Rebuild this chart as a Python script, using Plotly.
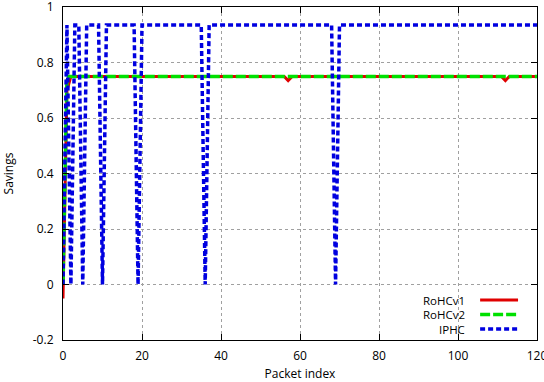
import plotly.graph_objects as go

packet_index = list(range(121))

rohcv1 = [
    -0.05, 0.70, 0.75, 0.75, 0.75, 0.75, 0.75, 0.75, 0.75, 0.75,
    0.75, 0.75, 0.75, 0.75, 0.75, 0.75, 0.75, 0.75, 0.75, 0.75,
    0.75, 0.75, 0.75, 0.75, 0.75, 0.75, 0.75, 0.75, 0.75, 0.75,
    0.75, 0.75, 0.75, 0.75, 0.75, 0.75, 0.75, 0.75, 0.75, 0.75,
    0.75, 0.75, 0.75, 0.75, 0.75, 0.75, 0.75, 0.75, 0.75, 0.75,
    0.75, 0.75, 0.75, 0.75, 0.75, 0.75, 0.75, 0.735, 0.75, 0.75,
    0.75, 0.75, 0.75, 0.75, 0.75, 0.75, 0.75, 0.75, 0.75, 0.75,
    0.75, 0.75, 0.75, 0.75, 0.75, 0.75, 0.75, 0.75, 0.75, 0.75,
    0.75, 0.75, 0.75, 0.75, 0.75, 0.75, 0.75, 0.75, 0.75, 0.75,
    0.75, 0.75, 0.75, 0.75, 0.75, 0.75, 0.75, 0.75, 0.75, 0.75,
    0.75, 0.75, 0.75, 0.75, 0.75, 0.75, 0.75, 0.75, 0.75, 0.75,
    0.75, 0.75, 0.735, 0.75, 0.75, 0.75, 0.75, 0.75, 0.75, 0.75,
    0.75,
]

rohcv2 = [
    0.0, 0.75, 0.75, 0.75, 0.75, 0.75, 0.75, 0.75, 0.75, 0.75,
    0.75, 0.75, 0.75, 0.75, 0.75, 0.75, 0.75, 0.75, 0.75, 0.75,
    0.75, 0.75, 0.75, 0.75, 0.75, 0.75, 0.75, 0.75, 0.75, 0.75,
    0.75, 0.75, 0.75, 0.75, 0.75, 0.75, 0.75, 0.75, 0.75, 0.75,
    0.75, 0.75, 0.75, 0.75, 0.75, 0.75, 0.75, 0.75, 0.75, 0.75,
    0.75, 0.75, 0.75, 0.75, 0.75, 0.75, 0.75, 0.75, 0.75, 0.75,
    0.75, 0.75, 0.75, 0.75, 0.75, 0.75, 0.75, 0.75, 0.75, 0.75,
    0.75, 0.75, 0.75, 0.75, 0.75, 0.75, 0.75, 0.75, 0.75, 0.75,
    0.75, 0.75, 0.75, 0.75, 0.75, 0.75, 0.75, 0.75, 0.75, 0.75,
    0.75, 0.75, 0.75, 0.75, 0.75, 0.75, 0.75, 0.75, 0.75, 0.75,
    0.75, 0.75, 0.75, 0.75, 0.75, 0.75, 0.75, 0.75, 0.75, 0.75,
    0.75, 0.75, 0.75, 0.75, 0.75, 0.75, 0.75, 0.75, 0.75, 0.75,
    0.75,
]

iphc = [
    0.0, 0.935, 0.0, 0.935, 0.935, 0.0, 0.935, 0.935, 0.935, 0.935,
    0.0, 0.935, 0.935, 0.935, 0.935, 0.935, 0.935, 0.935, 0.935, 0.0,
    0.935, 0.935, 0.935, 0.935, 0.935, 0.935, 0.935, 0.935, 0.935, 0.935,
    0.935, 0.935, 0.935, 0.935, 0.935, 0.935, 0.0, 0.935, 0.935, 0.935,
    0.935, 0.935, 0.935, 0.935, 0.935, 0.935, 0.935, 0.935, 0.935, 0.935,
    0.935, 0.935, 0.935, 0.935, 0.935, 0.935, 0.935, 0.935, 0.935, 0.935,
    0.935, 0.935, 0.935, 0.935, 0.935, 0.935, 0.935, 0.935, 0.935, 0.0,
    0.935, 0.935, 0.935, 0.935, 0.935, 0.935, 0.935, 0.935, 0.935, 0.935,
    0.935, 0.935, 0.935, 0.935, 0.935, 0.935, 0.935, 0.935, 0.935, 0.935,
    0.935, 0.935, 0.935, 0.935, 0.935, 0.935, 0.935, 0.935, 0.935, 0.935,
    0.935, 0.935, 0.935, 0.935, 0.935, 0.935, 0.935, 0.935, 0.935, 0.935,
    0.935, 0.935, 0.935, 0.935, 0.935, 0.935, 0.935, 0.935, 0.935, 0.935,
    0.935,
]

x_ticks = [0, 20, 40, 60, 80, 100, 120]
x_tick_labels = ["0", "20", "40", "60", "80", "100", "120"]
y_ticks = [-0.2, 0, 0.2, 0.4, 0.6, 0.8, 1]
y_tick_labels = ["-0.2", "0", "0.2", "0.4", "0.6", "0.8", "1"]

series_names = ["RoHCv1", "RoHCv2", "IPHC"]
series_data = [rohcv1, rohcv2, iphc]
series_colors = ["#e00000", "#00e000", "#0000e0"]
series_dash = ["solid", "10px,3px", "5px,3px"]
series_width = [3, 3.5, 3.5]

FONT = "Open Sans"

fig = go.Figure()
for name, ys, col, dash, w in zip(series_names, series_data, series_colors, series_dash, series_width):
    fig.add_trace(go.Scatter(
        x=packet_index, y=ys, mode="lines", name=name,
        line=dict(color=col, dash=dash, width=w),
        showlegend=False,
    ))

# manual gnuplot-style legend (text on the left, sample on the right)
legend_rows_y = [0.1198, 0.0763, 0.0329]
for name, col, dash, w, ly in zip(series_names, series_colors, series_dash, series_width, legend_rows_y):
    fig.add_shape(type="line", xref="paper", yref="paper",
                  x0=0.880, x1=0.960, y0=ly, y1=ly,
                  line=dict(color=col, dash=dash, width=w))
    fig.add_annotation(xref="paper", yref="paper", x=0.850, y=ly,
                       text=name, showarrow=False, xanchor="right", yanchor="middle",
                       height=13, borderpad=0,
                       font=dict(family=FONT, size=11.5, color="black"))

axis_common = dict(
    showline=True, linecolor="black", linewidth=1.2, mirror="ticks",
    ticks="inside", ticklen=6, tickcolor="black", tickwidth=1,
    showgrid=True, gridcolor="#a0a0a0", griddash="dot", gridwidth=1,
    zeroline=False, ticklabeloverflow="allow", automargin=False,
    tickfont=dict(family=FONT, size=12, color="black"),
)

fig.update_xaxes(range=[0, 120], tickvals=x_ticks, ticktext=x_tick_labels,
                 title=dict(text="Packet index", font=dict(family=FONT, size=12, color="black"), standoff=11),
                 ticklabelstandoff=4,
                 **axis_common)
fig.update_yaxes(range=[-0.2, 1], tickvals=y_ticks, ticktext=y_tick_labels,
                 title=dict(text="Savings", font=dict(family=FONT, size=12, color="black"), standoff=18),
                 ticklabelstandoff=6,
                 **axis_common)

fig.update_layout(
    width=544, height=382,
    margin=dict(l=63, r=7, t=7, b=42),
    plot_bgcolor="white", paper_bgcolor="white",
    font=dict(family=FONT, size=12, color="black"),
)

fig.write_html("out.html")
